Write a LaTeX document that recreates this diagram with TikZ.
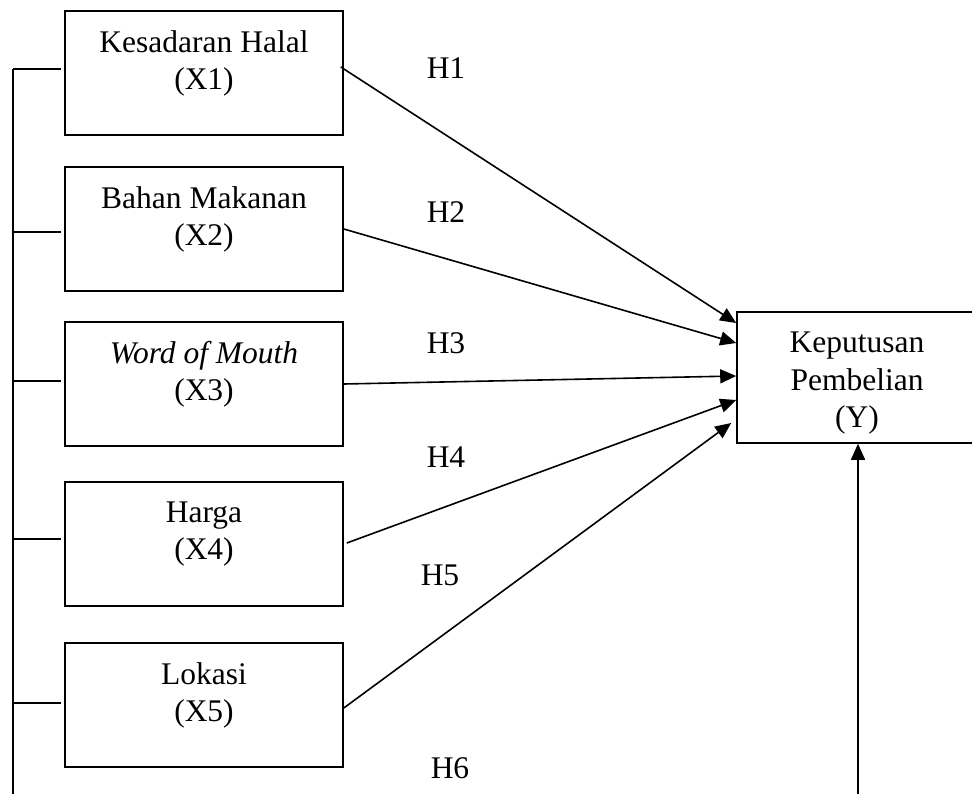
\documentclass[tikz,border=0pt]{standalone}
\usepackage{fontspec}
\setmainfont{Liberation Serif}
\usetikzlibrary{arrows.meta,calc}
\begin{document}
\begin{tikzpicture}[x=1pt,y=-1pt,
  xbox/.style={draw,line width=1.6pt,minimum width=278pt,minimum height=124pt,inner sep=0pt},
  ybox/.style={draw,line width=1.6pt,minimum width=240pt,minimum height=131pt,inner sep=0pt},
  lbl/.style={font=\fontsize{31.5}{37.5}\selectfont,align=center,inner sep=0pt},
  hlbl/.style={font=\fontsize{31.5}{37}\selectfont,inner sep=0pt},
  arr/.style={line width=1.6pt,-{Triangle[length=16pt,width=14pt]}},
  ln/.style={line width=1.6pt}]
\useasboundingbox (0,0) rectangle (972,794);
% predictor boxes
\node[xbox] (x1) at (204,73) {};
\node[xbox] (x2) at (204,229) {};
\node[xbox] (x3) at (204,384) {};
\node[xbox] (x4) at (204,544) {};
\node[xbox] (x5) at (204,705) {};
\node[lbl] (t1) at ([yshift=-53pt]x1.north) {Kesadaran Halal\\(X1)};
\node[lbl] (t2) at ([yshift=-53pt]x2.north) {Bahan Makanan\\(X2)};
\node[lbl] (t3) at ([yshift=-53pt]x3.north) {\textit{Word of Mouth}\\(X3)};
\node[lbl] (t4) at ([yshift=-53pt]x4.north) {Harga\\(X4)};
\node[lbl] (t5) at ([yshift=-53pt]x5.north) {Lokasi\\(X5)};
% dependent box
\node[ybox] (y) at (857,377.5) {};
\node[lbl] (yt) at ([yshift=-6pt]y.center) {Keputusan\\Pembelian\\(Y)};
% hypothesis labels
\node[hlbl] (h1) at (446,68) {H1};
\node[hlbl] (h2) at (446,212) {H2};
\node[hlbl] (h3) at (446,343) {H3};
\node[hlbl] (h4) at (446,457) {H4};
\node[hlbl] (h5) at (440,575) {H5};
\node[hlbl] (h6) at (450,768) {H6};
% arrows
\draw[arr] ([xshift=-3pt,yshift=6pt]x1.east) -- ([yshift=54.5pt]y.west);
\draw[arr] (x2.east) -- ([yshift=34.5pt]y.west);
\draw[arr] (x3.east) -- ([yshift=1.5pt]y.west);
\draw[arr] ([xshift=3pt,yshift=1pt]x4.east) -- ([yshift=-22.5pt]y.west);
\draw[arr] ([yshift=-3pt]x5.east) -- ([xshift=-5pt,yshift=-45.5pt]y.west);
\coordinate (ybot) at (858,800);
\draw[arr] (ybot) -- ([xshift=1pt]y.south);
% left bracket
\coordinate (bartop) at (13,69);
\coordinate (barbot) at (13,800);
\draw[ln] (bartop) -- (barbot);
\coordinate (k1) at ([xshift=-3pt,yshift=4pt]x1.west);
\coordinate (k2) at ([xshift=-3pt,yshift=-3pt]x2.west);
\coordinate (k3) at ([xshift=-3pt,yshift=3pt]x3.west);
\coordinate (k4) at ([xshift=-3pt,yshift=5pt]x4.west);
\coordinate (k5) at ([xshift=-3pt,yshift=2pt]x5.west);
\draw[ln] (k1) -- (k1 -| bartop);
\draw[ln] (k2) -- (k2 -| bartop);
\draw[ln] (k3) -- (k3 -| bartop);
\draw[ln] (k4) -- (k4 -| bartop);
\draw[ln] (k5) -- (k5 -| bartop);
\end{tikzpicture}
\end{document}
